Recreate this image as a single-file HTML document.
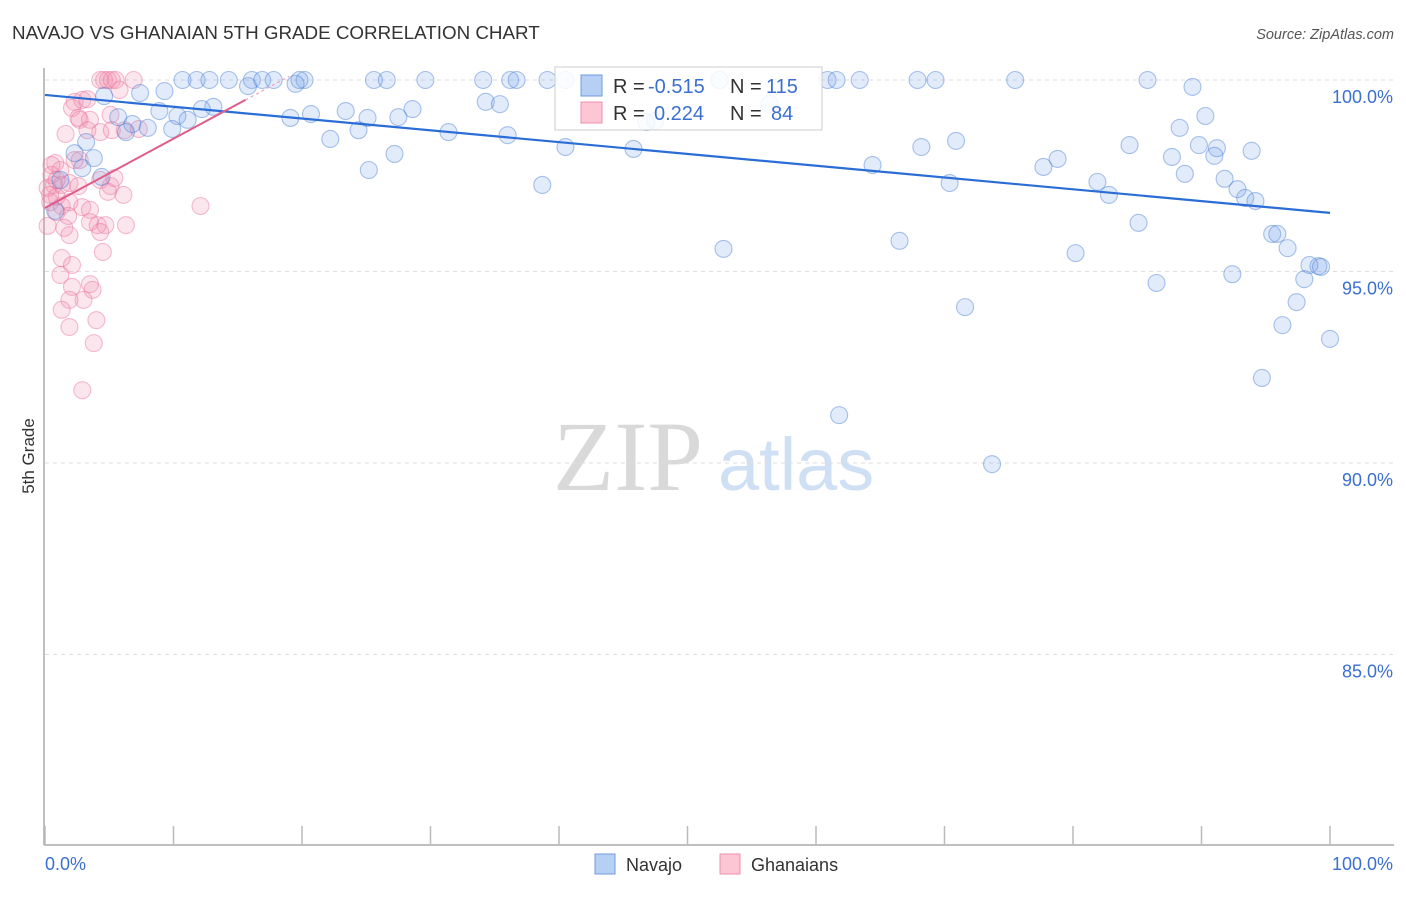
<!DOCTYPE html>
<html><head><meta charset="utf-8"><style>
body{margin:0;background:#fff;font-family:"Liberation Sans",sans-serif;}
</style></head><body>
<svg id="chart" width="1406" height="892" font-family="Liberation Sans, sans-serif">
<text x="12" y="39" font-size="18.8" fill="#333">NAVAJO VS GHANAIAN 5TH GRADE CORRELATION CHART</text>
<text x="1394" y="39" font-size="14.5" fill="#555" font-style="italic" text-anchor="end">Source: ZipAtlas.com</text>
<g>
<text x="553" y="490" font-size="100" fill="#d9d9d9" style="font-family:'Liberation Serif',serif">ZIP</text>
<text x="718" y="490" font-size="74" fill="#cfdff4">atlas</text>
</g>
<g id="grid"></g><g id="axes"></g><g id="pts"></g><g id="trend"></g>
<g>
<rect x="555" y="67" width="267" height="63" fill="rgba(255,255,255,0.85)" stroke="#ccc"/>
<rect x="581" y="75" width="21" height="21" fill="#b5d0f3" stroke="#6f9be0"/>
<rect x="581" y="102" width="21" height="21" fill="#fcc6d5" stroke="#ee8fae"/>
<text y="93" font-size="20"><tspan x="613" fill="#333">R = </tspan><tspan x="648" fill="#3b6fd1">-0.515</tspan><tspan x="730" fill="#333">N = </tspan><tspan x="766" fill="#3b6fd1">115</tspan></text>
<text y="120" font-size="20"><tspan x="613" fill="#333">R = </tspan><tspan x="654" fill="#3b6fd1">0.224</tspan><tspan x="730" fill="#333">N = </tspan><tspan x="771" fill="#3b6fd1">84</tspan></text>
</g>
<text transform="translate(34,456) rotate(-90)" font-size="17" fill="#333" text-anchor="middle">5th Grade</text>
<g>
<rect x="595" y="854" width="20" height="20" fill="#b5d0f3" stroke="#6f9be0"/>
<text x="626" y="871" font-size="18" fill="#333">Navajo</text>
<rect x="720" y="854" width="20" height="20" fill="#fcc6d5" stroke="#ee8fae"/>
<text x="751" y="871" font-size="18" fill="#333">Ghanaians</text>
</g>
</svg>
<script>
const yTicks=[100,95,90,85];
const yTickLabels=["100.0%","95.0%","90.0%","85.0%"];
const xTicks=[0,10,20,30,40,50,60,70,80,90,100];
const xEndLabels=["0.0%","100.0%"];
const navajoX=[10.7,11.8,12.8,14.3,16.1,16.9,17.8,20.2,25.6,26.6,29.6,34.1,36.2,36.7,39.1,40.5,52.5,60.9,61.6,63.4,67.9,69.3,75.5,85.8,19.5,19.8,15.8,89.3,9.3,7.4,4.6,34.3,35.4,56.4,13.1,12.2,8.9,23.4,28.6,20.7,19.1,10.3,11.1,25.1,27.5,5.7,90.3,46.8,6.8,8.0,9.9,24.4,6.3,31.4,36.0,88.3,22.2,70.9,3.2,68.2,84.4,40.5,45.8,89.8,91.2,93.9,2.3,3.8,91.0,27.2,87.7,78.8,64.4,77.7,25.2,2.9,88.7,91.8,4.4,81.9,70.4,38.7,92.8,82.8,93.4,94.2,0.8,85.1,95.5,95.9,96.7,52.8,66.5,80.2,98.4,99.1,99.3,92.4,98.0,86.5,97.4,71.6,96.3,100,94.7,61.8,73.7,47.5,1.2];
const navajoY=[100,100,100,100,100,100,100,100,100,100,100,100,100,100,100,100,100,100,100,100,100,100,100,100,99.9,100,99.84,99.82,99.71,99.66,99.58,99.43,99.37,99.37,99.3,99.24,99.19,99.19,99.24,99.11,99.01,99.06,98.96,99.01,99.03,99.03,99.06,98.9,98.85,98.75,98.72,98.69,98.64,98.64,98.56,98.75,98.46,98.41,98.38,98.25,98.3,98.25,98.2,98.3,98.22,98.15,98.09,97.96,98.02,98.07,97.99,97.94,97.78,97.73,97.65,97.7,97.55,97.42,97.47,97.34,97.31,97.26,97.15,97.0,96.92,96.84,96.58,96.27,95.98,95.98,95.61,95.59,95.8,95.48,95.17,95.14,95.12,94.93,94.8,94.7,94.2,94.07,93.6,93.24,92.22,91.25,89.97,98.93,97.39];
const ghanaX=[4.3,4.6,4.9,5.2,5.5,6.9,5.8,2.3,2.9,3.3,2.1,2.7,3.5,2.6,5.1,5.2,6.2,7.3,1.6,4.3,2.3,2.7,0.8,1.2,0.5,0.7,1.3,1.9,2.6,5.1,0.2,4.3,5.4,4.9,6.1,0.9,1.9,0.4,1.3,2.9,3.5,0.9,1.8,3.5,4.1,4.7,6.3,0.2,1.5,1.9,4.3,1.3,2.1,4.5,1.2,3.5,2.1,3.7,3.0,1.9,1.3,4.0,1.9,3.8,2.9,12.1,0.5,0.9,0.4,3.3];
const ghanaY=[100,100,100,100,100,100,99.74,99.43,99.48,99.5,99.27,98.96,98.96,99.01,99.09,98.69,98.69,98.72,98.59,98.64,97.91,97.91,97.83,97.65,97.52,97.26,97.26,97.31,97.23,97.23,97.18,97.39,97.44,97.08,97.0,96.95,96.81,96.81,96.71,96.68,96.61,96.55,96.45,96.29,96.21,96.21,96.21,96.19,96.14,95.95,96.03,95.35,95.17,95.51,94.91,94.67,94.6,94.52,94.26,94.26,94.0,93.73,93.55,93.13,91.9,96.71,97.78,97.39,97.0,98.69];
const navajoTrend=[99.61,96.53];
const ghanaTrend=[96.66,99.48,15.6];

const NS="http://www.w3.org/2000/svg";
const X0=45,X1=1330,Y100=80,PXPER=38.3;
const sx=v=>X0+(X1-X0)*v/100;
const sy=v=>Y100+(100-v)*PXPER;
function mk(tag,attrs,parent){const e=document.createElementNS(NS,tag);for(const k in attrs)e.setAttribute(k,attrs[k]);parent.appendChild(e);return e;}
const grid=document.getElementById('grid'),axes=document.getElementById('axes'),pts=document.getElementById('pts'),trend=document.getElementById('trend');
yTicks.forEach((t,i)=>{
 const l=mk('line',{x1:45,x2:1394,y1:sy(t),y2:sy(t),stroke:'#ddd','stroke-dasharray':'4,4'},grid);
 
 
 const tx=mk('text',{x:1393,y:sy(t)+23,'font-size':18,fill:'#3b6fd1','text-anchor':'end'},grid);
 tx.textContent=yTickLabels[i];
 
 
});
let a=mk('line',{x1:44,x2:44,y1:68,y2:845,stroke:'#aaa','stroke-width':1.5},axes);


a=mk('line',{x1:44,x2:1394,y1:845,y2:845,stroke:'#aaa','stroke-width':1.5},axes);


xTicks.forEach(t=>{
 const l=mk('line',{x1:sx(t),x2:sx(t),y1:826,y2:845,stroke:'#bbb','stroke-width':1.5},axes);
 
 
});
let xl=mk('text',{x:45,y:870,'font-size':18,fill:'#3b6fd1'},axes);xl.textContent=xEndLabels[0];


xl=mk('text',{x:1393,y:870,'font-size':18,fill:'#3b6fd1','text-anchor':'end'},axes);xl.textContent=xEndLabels[1];


ghanaX.forEach((x,i)=>{
 const c=mk('circle',{cx:sx(x),cy:sy(ghanaY[i]),r:8.5,fill:'rgba(243,140,172,0.22)',stroke:'rgba(232,110,150,0.45)','stroke-width':1.1},pts);
 
 
});
navajoX.forEach((x,i)=>{
 const c=mk('circle',{cx:sx(x),cy:sy(navajoY[i]),r:8.5,fill:'rgba(120,165,230,0.22)',stroke:'rgba(70,125,210,0.45)','stroke-width':1.1},pts);
 
 
});
let t=mk('line',{x1:sx(0),y1:sy(navajoTrend[0]),x2:sx(100),y2:sy(navajoTrend[1]),stroke:'#2a6dd6','stroke-width':2.2},trend);


t=mk('line',{x1:sx(0),y1:sy(ghanaTrend[0]),x2:sx(ghanaTrend[2]),y2:sy(ghanaTrend[1]),stroke:'#e05c8a','stroke-width':2},trend);


const slope=(ghanaTrend[1]-ghanaTrend[0])/ghanaTrend[2];
t=mk('line',{x1:sx(ghanaTrend[2]),y1:sy(ghanaTrend[1]),x2:sx(19),y2:sy(ghanaTrend[0]+slope*19),stroke:'#f0a0bb','stroke-width':1.2,'stroke-dasharray':'3,3'},trend);


</script>
</body></html>
